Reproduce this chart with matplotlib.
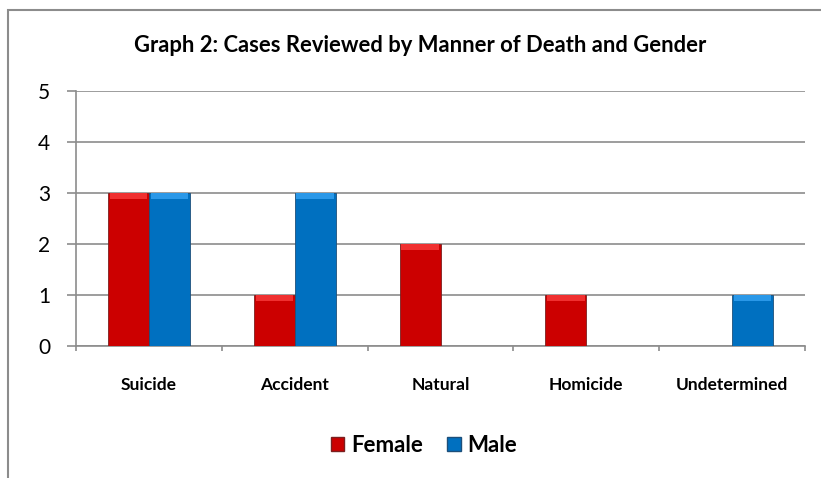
import numpy as np
import matplotlib.pyplot as plt
from matplotlib.patches import Rectangle

# data
categories = ["Suicide", "Accident", "Natural", "Homicide", "Undetermined"]
female = [3, 1, 2, 1, 0]
male = [3, 3, 0, 0, 1]
y_ticks = [0, 1, 2, 3, 4, 5]

RED = "#CC0000"
RED_TOP = "#F03030"
BLUE = "#0070C0"
BLUE_TOP = "#2A98E8"
GRID = "#8c8c8c"

plt.rcParams["font.family"] = ["Lato", "DejaVu Sans"]

W, H = 821, 478
fig = plt.figure(figsize=(W / 100, H / 100), dpi=100)

# chart border (left and top visible)
fig.patches.append(Rectangle((8 / W, -0.05), 1.2, (H - 10) / H + 0.05,
                             transform=fig.transFigure, fill=False,
                             edgecolor=GRID, linewidth=1.5))

# plot area: x 76..805, y 91..346 (pixels)
ax = fig.add_axes([76 / W, 1 - 346 / H, (805 - 76) / W, (346 - 91) / H])

x = np.arange(len(categories))
bw = 0.28
cap = 0.12


def draw_bars(xs, vals, face, top, edge):
    vals = np.asarray(vals, float)
    ax.bar(xs, vals, width=bw, color=face, edgecolor=edge, linewidth=0.6, zorder=3)
    mask = vals > 0
    ax.bar(xs[mask], np.full(mask.sum(), cap), bottom=vals[mask] - cap, width=bw * 0.92,
           color=top, linewidth=0, zorder=4)


draw_bars(x - bw / 2, female, RED, RED_TOP, "#7a2020")
draw_bars(x + bw / 2, male, BLUE, BLUE_TOP, "#1d4f7a")

ax.set_xlim(-0.5, len(categories) - 0.5)
ax.set_ylim(0, 5)
ax.set_yticks(y_ticks)
ax.set_yticklabels([str(t) for t in y_ticks], fontsize=15)
ax.yaxis.grid(True, color=GRID, linewidth=1.2, zorder=0)
ax.set_axisbelow(True)

ax.set_xticks(x)
ax.set_xticklabels(categories, fontsize=12.5, fontweight="bold")
ax.set_xticks(np.arange(len(categories) + 1) - 0.5, minor=True)
ax.tick_params(axis="x", which="major", length=0, pad=22)
ax.tick_params(axis="x", which="minor", length=3.5, color=GRID, width=1.2)
ax.tick_params(axis="y", length=6.5, color=GRID, width=1.2, pad=12)

for s in ["top", "right"]:
    ax.spines[s].set_visible(False)
for s in ["left", "bottom"]:
    ax.spines[s].set_color(GRID)
    ax.spines[s].set_linewidth(1.2)

fig.text(420 / W, 1 - 45 / H, "Graph 2: Cases Reviewed by Manner of Death and Gender",
         ha="center", va="center", fontsize=15.8, fontweight="bold")

handles = [Rectangle((0, 0), 1, 1, facecolor=RED, edgecolor="#7a2020"),
           Rectangle((0, 0), 1, 1, facecolor=BLUE, edgecolor="#1d4f7a")]
fig.legend(handles, ["Female", "Male"], loc="center", bbox_to_anchor=(424 / W, 1 - 445 / H),
           ncol=2, frameon=False, handlelength=0.6, handleheight=0.6, handletextpad=0.3,
           columnspacing=1.1, prop={"weight": "bold", "size": 16})

fig.savefig("out.png", dpi=100)
